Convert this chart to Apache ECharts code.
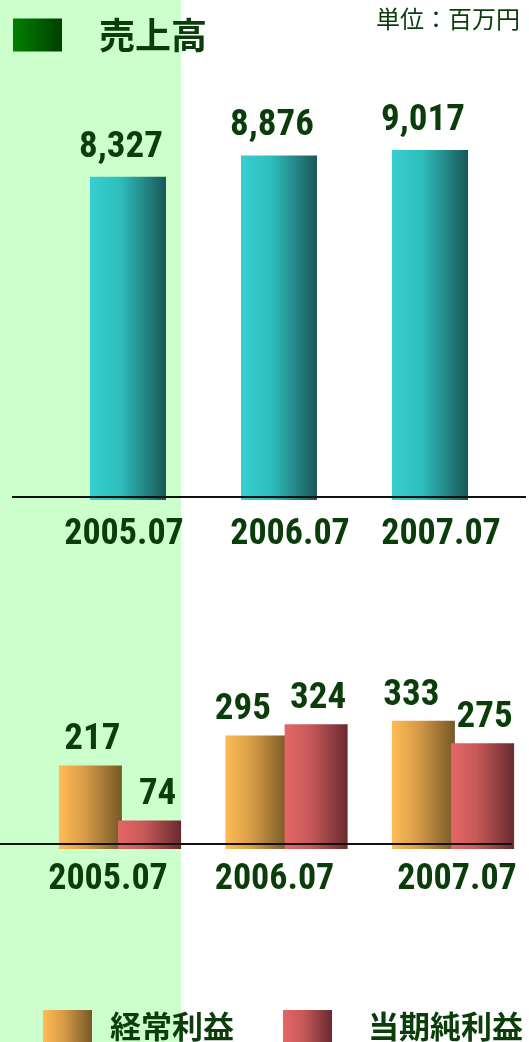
<!DOCTYPE html>
<html>
<head>
<meta charset="utf-8">
<script src="https://cdn.jsdelivr.net/npm/echarts@6/dist/echarts.min.js"></script>
<style>
  html, body { margin: 0; padding: 0; overflow: hidden; }
  #vis {
    width: 540px;
    height: 1042px;
    background: linear-gradient(to right, #ccffcc 0, #ccffcc 181px, #ffffff 181px);
  }
</style>
</head>
<body>
<div id="vis"></div>
<script>
// 売上高 (百万円)
const years = ['2005.07', '2006.07', '2007.07']
const sales = [8327, 8876, 9017]

// 経常利益 / 当期純利益
const ordinaryProfit = [217, 295, 333]
const netProfit = [74, 324, 275]

// the original labels sit a little off the bar centres
const topTickShift = [-4, 11, 11]
const bottomTickShift = [-12, -12, 4]
const ordinaryLabelShift = [2, -14, -12]
const netLabelShift = [8, 2, 2]

const numFont = "'Liberation Sans Narrow', 'Arial Narrow', 'Roboto Condensed', 'Liberation Sans', sans-serif"
const jpFont = "'Noto Sans CJK JP', sans-serif"
const textColor = '#0b3d0b'

const grad = (a, b, c) => new echarts.graphic.LinearGradient(0, 0, 1, 0, [
  { offset: 0, color: a },
  { offset: 0.4, color: b },
  { offset: 1, color: c }
])

const numStyle = { color: textColor, fontFamily: numFont, fontWeight: 'bold', fontSize: 36 }

const valueLabel = dist => ({
  show: true,
  position: 'top',
  distance: dist,
  color: textColor,
  fontFamily: numFont,
  fontWeight: 'bold',
  fontSize: 37
})

const withShift = (values, shifts) => values.map((v, i) => ({ value: v, label: { offset: [shifts[i], 0] } }))

const axisLabel = (margin, shifts) => {
  const rich = {}
  shifts.forEach((s, i) => {
    rich['s' + i] = Object.assign({}, numStyle, {
      padding: s >= 0 ? [0, 0, 0, 2 * s] : [0, -2 * s, 0, 0]
    })
  })
  return Object.assign({}, numStyle, {
    interval: 0,
    hideOverlap: false,
    margin: margin,
    formatter: (v, i) => `{s${i}|${v}}`,
    rich: rich
  })
}

const option = {
  animation: false,
  title: {
    text: '単位：百万円',
    left: 376,
    top: 7,
    padding: 0,
    textStyle: { fontFamily: jpFont, fontSize: 24, fontWeight: 'normal', color: textColor }
  },
  legend: [
    {
      left: 13,
      top: 17,
      padding: 0,
      icon: 'rect',
      itemWidth: 49,
      itemHeight: 33,
      data: [{
        name: '売上高',
        itemStyle: { color: new echarts.graphic.LinearGradient(0, 0, 1, 0, [
          { offset: 0, color: '#008000' }, { offset: 1, color: '#004000' }
        ]) }
      }],
      textStyle: { fontFamily: jpFont, fontSize: 36, fontWeight: 'bold', color: textColor, padding: [0, 0, 0, 32] }
    },
    {
      left: 43,
      top: 1010,
      padding: 0,
      icon: 'rect',
      itemWidth: 49,
      itemHeight: 33,
      data: ['経常利益'],
      textStyle: { fontFamily: jpFont, fontSize: 31, fontWeight: 'bold', color: textColor, padding: [0, 0, 0, 13] }
    },
    {
      left: 283,
      top: 1010,
      padding: 0,
      icon: 'rect',
      itemWidth: 49,
      itemHeight: 33,
      data: ['当期純利益'],
      textStyle: { fontFamily: jpFont, fontSize: 31, fontWeight: 'bold', color: textColor, padding: [0, 0, 0, 31] }
    }
  ],
  grid: [
    { left: 52.5, width: 453, top: 110, height: 390 },
    { left: 36.75, width: 499.5, top: 695, height: 154 }
  ],
  xAxis: [
    {
      gridIndex: 0,
      type: 'category',
      data: years,
      axisLine: { show: false },
      axisTick: { show: false },
      axisLabel: axisLabel(17, topTickShift)
    },
    {
      gridIndex: 1,
      type: 'category',
      data: years,
      axisLine: { show: false },
      axisTick: { show: false },
      axisLabel: axisLabel(13, bottomTickShift)
    }
  ],
  yAxis: [
    { gridIndex: 0, type: 'value', min: 0, max: 10050, show: false },
    { gridIndex: 1, type: 'value', min: 0, max: 400, show: false }
  ],
  series: [
    {
      name: '売上高',
      type: 'bar',
      xAxisIndex: 0,
      yAxisIndex: 0,
      barWidth: 76,
      data: sales,
      itemStyle: { color: grad('#36cfcf', '#2fbdbd', '#1a5656') },
      label: Object.assign(valueLabel(11), {
        offset: [-7, 0],
        formatter: p => p.value.toLocaleString('en-US')
      })
    },
    {
      name: '経常利益',
      type: 'bar',
      xAxisIndex: 1,
      yAxisIndex: 1,
      barWidth: 63,
      barGap: '-6%',
      data: withShift(ordinaryProfit, ordinaryLabelShift),
      itemStyle: { color: grad('#ffbc55', '#d99d48', '#765826') },
      label: valueLabel(7)
    },
    {
      name: '当期純利益',
      type: 'bar',
      xAxisIndex: 1,
      yAxisIndex: 1,
      barWidth: 63,
      data: withShift(netProfit, netLabelShift),
      itemStyle: { color: grad('#e56666', '#c85a5a', '#682a30') },
      label: valueLabel(7)
    }
  ],
  graphic: [
    { type: 'line', z: 100, shape: { x1: 12, y1: 497, x2: 526, y2: 497 }, style: { stroke: '#111', lineWidth: 2 } },
    { type: 'line', z: 100, shape: { x1: 0, y1: 844, x2: 512, y2: 844 }, style: { stroke: '#111', lineWidth: 2 } }
  ]
}

const chart = echarts.init(document.getElementById('vis'))
chart.setOption(option)
</script>
</body>
</html>
